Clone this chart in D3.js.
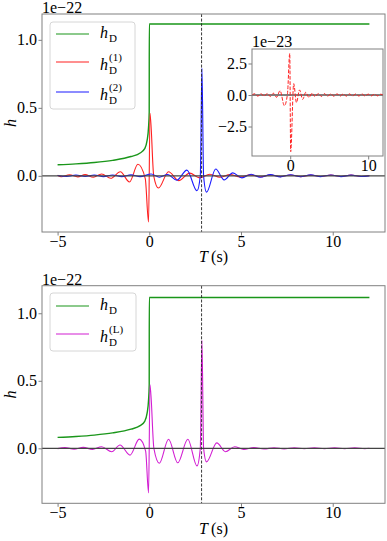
<!DOCTYPE html>
<html>
<head>
<meta charset="utf-8">
<script src="https://d3js.org/d3.v7.min.js"></script>
<style>
html,body{margin:0;padding:0;background:#fff;}
text{font-family:"Liberation Serif","Times New Roman",serif;}
</style>
</head>
<body>
<script>
// T (s) and amplitude in units of 1e-22 (inset: 1e-23)
let hD = [[-5,0.081],[-4,0.088],[-3,0.098],[-2,0.114],[-1,0.142],[-0.5,0.168],[-0.25,0.2],[-0.12,0.26],[-0.04,0.36],[-0.005,0.47],[0,1.117],[12,1.117]];

let hD1 = [[-5,0.004],[-4.8,-0.007],[-4.35,0.008],[-3.9,-0.008],[-3.5,0.009],[-3.05,-0.01],[-2.6,0.014],[-2.1,-0.018],[-1.58,0.03],[-1.08,-0.045],[-0.62,0.085],[-0.22,-0.02],[-0.04,-0.34],[0.04,0.46],[0.24,0.0],[0.5,-0.09],[1.05,0.03],[1.6,-0.035],[2.2,0.02],[2.75,-0.015],[3.3,0.012],[3.85,-0.01],[4.4,0.009],[4.95,-0.008],[5.5,0.007],[6.05,-0.007],[6.6,0.006],[7.15,-0.006],[7.7,0.006],[8.25,-0.006],[8.8,0.005],[9.35,-0.005],[9.9,0.005],[10.45,-0.005],[11.0,0.005],[11.55,-0.005],[12,0.002]];

let hD2 = [[-5,0.003],[-4.5,-0.005],[-4.0,0.006],[-3.5,-0.005],[-3.0,0.006],[-2.5,-0.006],[-2.0,0.006],[-1.5,-0.006],[-1.0,0.007],[-0.5,-0.006],[0.1,0.013],[0.55,-0.01],[1.0,0.01],[1.5,-0.032],[2.05,0.042],[2.6,-0.11],[2.78,0.0],[2.87,0.79],[2.96,0.0],[3.12,-0.12],[3.62,0.05],[4.08,-0.03],[4.55,0.022],[5.05,-0.015],[5.55,0.012],[6.05,-0.01],[6.6,0.009],[7.15,-0.008],[7.7,0.008],[8.25,-0.007],[8.8,0.007],[9.35,-0.006],[9.9,0.006],[10.45,-0.006],[11.0,0.005],[11.55,-0.005],[12,0.0]];

let hDL = [[-5,-0.002],[-4.6,0.005],[-4.1,-0.006],[-3.6,0.007],[-3.1,-0.008],[-2.6,0.012],[-2.05,-0.025],[-1.6,0.025],[-1.05,-0.05],[-0.55,0.068],[-0.2,-0.02],[-0.04,-0.33],[0.04,0.47],[0.25,0.0],[0.55,-0.11],[1.05,0.067],[1.55,-0.107],[2.1,0.067],[2.6,-0.13],[2.78,0.0],[2.87,0.8],[2.96,0.0],[3.12,-0.1],[3.68,0.04],[4.15,-0.025],[4.65,0.012],[5.15,-0.008],[5.7,0.006],[6.25,-0.005],[6.8,0.004],[7.35,-0.004],[7.9,0.004],[8.45,-0.003],[9.0,0.003],[9.55,-0.003],[10.1,0.003],[10.65,-0.003],[11.2,0.003],[11.75,-0.002],[12,0.0]];

let insetRes = [[-4.9,0.0],[-4.55,0.1],[-4.15,-0.1],[-3.75,0.11],[-3.35,-0.1],[-2.95,0.12],[-2.55,-0.12],[-2.15,0.14],[-1.75,-0.18],[-1.3,0.34],[-0.75,-0.85],[-0.35,0.1],[-0.06,3.3],[0.06,-4.5],[0.45,0.9],[0.8,-0.6],[1.2,0.4],[1.6,-0.35],[2.0,0.22],[2.4,-0.2],[2.8,0.15],[3.2,-0.14],[3.6,0.12],[4.0,-0.12],[4.4,0.11],[4.8,-0.1],[5.2,0.1],[5.6,-0.1],[6.0,0.1],[6.4,-0.09],[6.8,0.09],[7.2,-0.09],[7.6,0.09],[8.0,-0.08],[8.4,0.08],[8.8,-0.08],[9.2,0.08],[9.6,-0.08],[10.0,0.07],[10.4,-0.07],[10.8,0.07],[11.2,-0.07],[11.6,0.06],[11.9,0.0]];

let tMerge2 = 2.85;
let xTicks = [-5,0,5,10];
let yTicks = [0,0.5,1.0];
let insetXTicks = [0,10];
let insetYTicks = [-2.5,0,2.5];

const W = 387, H = 541;
const svg = d3.select("body").append("svg").attr("width",W).attr("height",H);

const line = (x,y) => d3.line().x(d=>x(d[0])).y(d=>y(d[1])).curve(d3.curveMonotoneX);

function axes(box, xDom, yDom, xt, yt, fmtY, fs) {
  const x = d3.scaleLinear().domain(xDom).range([box.left, box.right]);
  const y = d3.scaleLinear().domain(yDom).range([box.bottom, box.top]);
  const g = svg.append("g");
  g.append("rect").attr("x",box.left).attr("y",box.top)
    .attr("width",box.right-box.left).attr("height",box.bottom-box.top)
    .attr("fill","#fff");
  const ax = g.append("g").attr("transform","translate(0,"+box.bottom+")")
    .call(d3.axisBottom(x).tickValues(xt).tickSize(3.5).tickPadding(0).tickFormat(d3.format("d")));
  const ay = g.append("g").attr("transform","translate("+box.left+",0)")
    .call(d3.axisLeft(y).tickValues(yt).tickSize(3.5).tickPadding(1.5).tickFormat(d3.format(fmtY)));
  [ax,ay].forEach(a=>{
    a.attr("font-family",null);
    a.select(".domain").remove();
    a.selectAll("line").attr("stroke","#808080");
    a.selectAll("text").attr("font-size",fs).attr("fill","#000");
  });
  return {g,x,y,box};
}

function border(p){
  p.g.append("rect").attr("x",p.box.left).attr("y",p.box.top)
    .attr("width",p.box.right-p.box.left).attr("height",p.box.bottom-p.box.top)
    .attr("fill","none").attr("stroke","#808080").attr("stroke-width",1);
}

function guides(p){
  p.g.append("line").attr("x1",p.box.left).attr("x2",p.box.right)
    .attr("y1",p.y(0)).attr("y2",p.y(0)).attr("stroke","#444").attr("stroke-width",1.3);
  p.g.append("line").attr("x1",p.x(tMerge2)).attr("x2",p.x(tMerge2))
    .attr("y1",p.box.top).attr("y2",p.box.bottom)
    .attr("stroke","#222").attr("stroke-width",0.9).attr("stroke-dasharray","3,1.6");
}

function series(p, data, color, w){
  p.g.append("path").datum(data).attr("d",line(p.x,p.y)).attr("fill","none")
    .attr("stroke",color).attr("stroke-width",w||1.1);
}

function labels(p, offTop, xlabY){
  p.g.append("text").attr("x",p.box.left).attr("y",offTop).attr("font-size",16).text("1e\u221222");
  const cy = (p.box.top+p.box.bottom)/2;
  p.g.append("text").attr("transform","translate(16,"+cy+") rotate(-90)")
    .attr("text-anchor","middle").attr("font-size",16).attr("font-style","italic").text("h");
  const t = p.g.append("text").attr("x",(p.box.left+p.box.right)/2).attr("y",xlabY)
    .attr("text-anchor","middle").attr("font-size",16);
  t.append("tspan").attr("font-style","italic").text("T");
  t.append("tspan").text("\u2009(s)");
}

function legend(p, box, entries){
  p.g.append("rect").attr("x",box[0]).attr("y",box[1]).attr("width",box[2]).attr("height",box[3])
    .attr("rx",3).attr("fill","#fff").attr("fill-opacity",0.8).attr("stroke","#d6d6d6");
  entries.forEach(e=>{
    p.g.append("line").attr("x1",56).attr("x2",89).attr("y1",e.y).attr("y2",e.y)
      .attr("stroke",e.color).attr("stroke-width",1.2);
    const by = e.sup ? e.y+8 : e.y+4;
    p.g.append("text").attr("x",100).attr("y",by).attr("font-size",16).attr("font-style","italic").text("h");
    p.g.append("text").attr("x",109).attr("y",by+4).attr("font-size",11).text("D");
    if(e.sup) p.g.append("text").attr("x",109).attr("y",by-9).attr("font-size",11).text(e.sup);
  });
}

const green = "#1a961a";

// ---- top panel
const topP = axes({left:42,right:385,top:14,bottom:232},[-5.85,12.85],[-0.413,1.19],xTicks,yTicks,".1f",16);
series(topP,hD,green,1.4);
series(topP,hD1,"#ff2020");
series(topP,hD2,"#1a1aff");
guides(topP);
border(topP);
labels(topP,13,262);
legend(topP,[50,22,85,87],[
  {y:34,color:green},
  {y:62,color:"#ff2020",sup:"(1)"},
  {y:92,color:"#1a1aff",sup:"(2)"}]);

// inset
const ins = axes({left:252,right:383,top:49,bottom:156},[-4.9,11.9],[-4.84,3.65],insetXTicks,insetYTicks,".1f",16);
ins.g.append("line").attr("x1",ins.box.left).attr("x2",ins.box.right)
  .attr("y1",ins.y(0)).attr("y2",ins.y(0)).attr("stroke","#000").attr("stroke-width",1);
ins.g.append("path").datum(insetRes).attr("d",line(ins.x,ins.y)).attr("fill","none")
  .attr("stroke","#ff2020").attr("stroke-width",1).attr("stroke-dasharray","3.7,1.6");
border(ins);
ins.g.append("text").attr("x",252).attr("y",46.5).attr("font-size",16).text("1e\u221223");

// ---- bottom panel
const botP = axes({left:42,right:385,top:285.7,bottom:503.3},[-5.85,12.85],[-0.407,1.204],xTicks,yTicks,".1f",16);
series(botP,hD,green,1.4);
series(botP,hDL,"#d21ed2");
guides(botP);
border(botP);
labels(botP,285,534);
legend(botP,[50,293,86,58],[
  {y:306,color:green},
  {y:334,color:"#d21ed2",sup:"(L)"}]);
</script>
</body>
</html>
